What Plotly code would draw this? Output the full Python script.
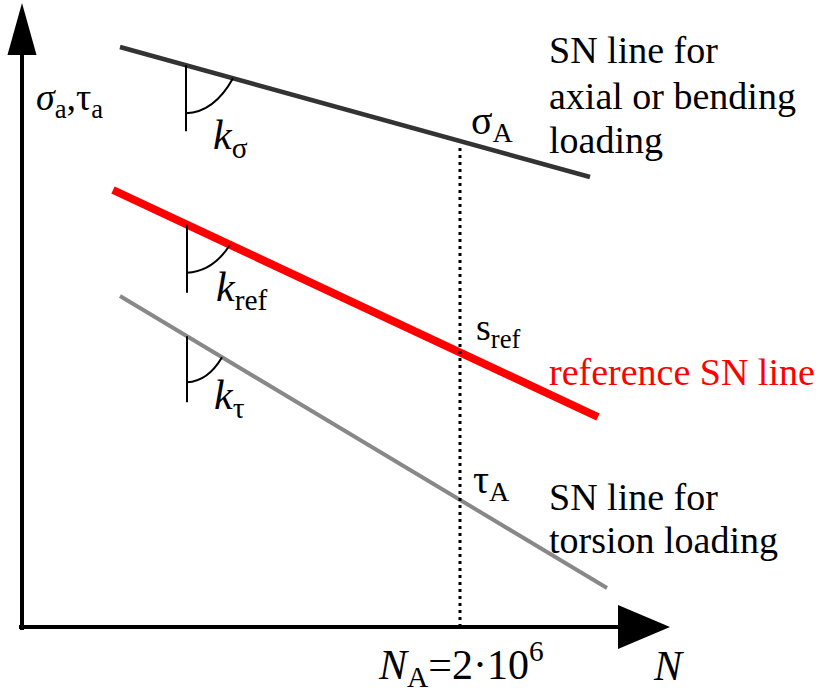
import numpy as np
import plotly.graph_objects as go

# Schematic S-N diagram in diagram units (origin at the corner of the axes)
line_names = ["axial/bending", "reference", "torsion"]
line_colors = ["#333333", "#ff0000", "#888888"]
line_widths = [4.5, 8, 4]
x_start = [98, 91, 98]
x_end = [568, 576, 585]
y_start = [580, 437, 331]
y_end = [450, 210, 39]

# knee-point abscissa N_A = 2e6 (schematic position)
N_A = 438

# slope markers: x of the vertical tick, tick length, arc drop and arc run
mark_x = [164, 165, 165]
mark_len = [66, 68, 66]
arc_drop = [48, 48, 46]
arc_run = [47, 43, 35]

# axis extents
x_axis_end = 596
y_axis_end = 572
arrow_len = 52
arrow_half = 22

FONT = "Liberation Serif, Times New Roman, serif"

fig = go.Figure()


def line_y(i, x):
    return np.interp(x, [x_start[i], x_end[i]], [y_start[i], y_end[i]])


for i, name in enumerate(line_names):
    fig.add_trace(go.Scatter(
        x=[x_start[i], x_end[i]], y=[y_start[i], y_end[i]],
        mode="lines", name=name,
        line=dict(color=line_colors[i], width=line_widths[i]),
        hoverinfo="skip", showlegend=False,
    ))

# dotted vertical at N_A up to the axial/bending line
fig.add_trace(go.Scatter(
    x=[N_A, N_A], y=[0, float(line_y(0, N_A)) - 4],
    mode="lines", line=dict(color="black", width=3, dash="3px,4px"),
    hoverinfo="skip", showlegend=False,
))

shapes = []
# axes
shapes.append(dict(type="line", x0=0, x1=0, y0=-3, y1=y_axis_end + 2,
                   line=dict(color="black", width=4), xref="x", yref="y"))
shapes.append(dict(type="line", x0=-3, x1=x_axis_end + 2, y0=0, y1=0,
                   line=dict(color="black", width=4), xref="x", yref="y"))
# arrow heads
shapes.append(dict(type="path", xref="x", yref="y",
                   path=f"M {-arrow_half * 0.66},{y_axis_end} L 0,{y_axis_end + arrow_len} "
                        f"L {arrow_half * 0.66},{y_axis_end} Z",
                   fillcolor="black", line=dict(width=0)))
shapes.append(dict(type="path", xref="x", yref="y",
                   path=f"M {x_axis_end},{-arrow_half} L {x_axis_end + arrow_len},0 "
                        f"L {x_axis_end},{arrow_half} Z",
                   fillcolor="black", line=dict(width=0)))

# slope markers
for i in range(3):
    xm = mark_x[i]
    yl = float(line_y(i, xm))
    shapes.append(dict(type="line", xref="x", yref="y", x0=xm, x1=xm,
                       y0=yl, y1=yl - mark_len[i], line=dict(color="black", width=2)))
    xe = xm + arc_run[i]
    ye = float(line_y(i, xe))
    ys = yl - arc_drop[i]
    cx = xm + arc_run[i] * 0.6
    cy = ys + 1
    shapes.append(dict(type="path", xref="x", yref="y",
                       path=f"M {xm},{ys} Q {cx},{cy} {xe},{ye}",
                       line=dict(color="black", width=2)))

annotations = []


def add_text(text, x, y, size=38, color="black", xanchor="left"):
    annotations.append(dict(text=text, x=x, y=y, xref="x", yref="y",
                            xanchor=xanchor, yanchor="middle", showarrow=False,
                            font=dict(family=FONT, size=size, color=color)))


add_text("<i>σ</i><sub>a</sub>,τ<sub>a</sub>", 12, 527, size=38)
add_text("<i>k</i><sub>σ</sub>", 189, 489, size=42)
add_text("<i>k</i><sub>ref</sub>", 192, 337, size=42)
add_text("<i>k</i><sub>τ</sub>", 190, 229, size=42)
add_text("σ<sub>A</sub>", 447, 504, size=40)
add_text("s<sub>ref</sub>", 452, 297, size=38)
add_text("τ<sub>A</sub>", 449, 145, size=40)

add_text("SN line for", 525, 577)
add_text("axial or bending", 525, 531)
add_text("loading", 525, 487)
add_text("reference SN line", 525, 255, color="#ff0000")
add_text("SN line for", 525, 130)
add_text("torsion loading", 525, 87)

add_text("<i>N</i><sub>A</sub>=2·10<sup>6</sup>", 354, -37, size=42)
add_text("<i>N</i>", 629, -39, size=42)

fig.update_layout(
    width=819, height=699,
    margin=dict(l=0, r=0, t=0, b=0),
    paper_bgcolor="white", plot_bgcolor="white",
    font=dict(family=FONT),
    xaxis=dict(range=[-22, 797], visible=False, fixedrange=True),
    yaxis=dict(range=[-72, 627], visible=False, fixedrange=True),
    shapes=shapes, annotations=annotations,
    showlegend=False,
)

fig.write_html("out.html")
